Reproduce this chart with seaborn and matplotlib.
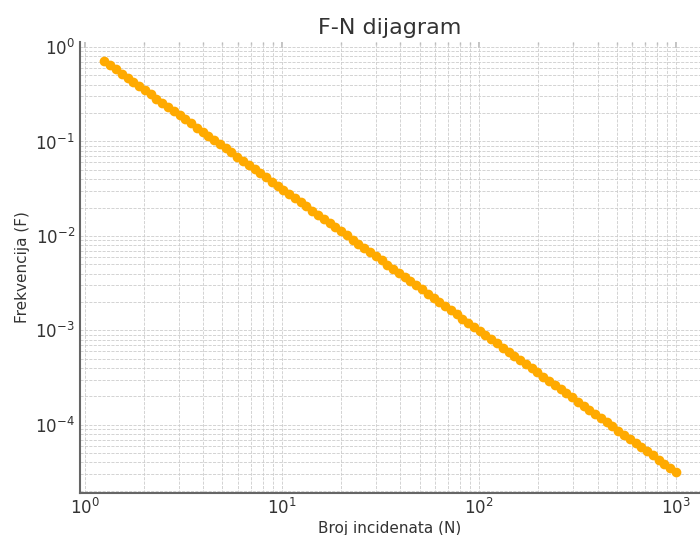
import pandas as pd
import matplotlib
matplotlib.use('Agg')
import matplotlib.pyplot as plt
import seaborn as sns

# Broj incidenata (N)
N = [1.259, 1.347, 1.441, 1.541, 1.649, 1.764, 1.887, 2.019, 2.159, 2.31,
     2.471, 2.644, 2.828, 3.026, 3.237, 3.463, 3.704, 3.963, 4.239, 4.535,
     4.851, 5.19, 5.552, 5.939, 6.354, 6.797, 7.271, 7.779, 8.322, 8.902,
     9.523, 10.19, 10.9, 11.66, 12.47, 13.34, 14.27, 15.27, 16.34, 17.48,
     18.69, 20, 21.39, 22.89, 24.48, 26.19, 28.02, 29.98, 32.07, 34.3,
     36.7, 39.26, 42, 44.93, 48.06, 51.42, 55.01, 58.84, 62.95, 67.34,
     72.04, 77.07, 82.44, 88.2, 94.35, 100.9, 108, 115.5, 123.6, 132.2,
     141.4, 151.3, 161.8, 173.1, 185.2, 198.1, 212, 226.8, 242.6, 259.5,
     277.6, 297, 317.7, 339.9, 363.6, 389, 416.1, 445.1, 476.2, 509.4,
     545, 583, 623.7, 667.2, 713.7, 763.5, 816.8, 873.8, 934.8, 1000]

# Frekvencija (F)
F = [0.7079, 0.6398, 0.5783, 0.5226, 0.4723, 0.4269, 0.3858, 0.3487, 0.3151, 0.2848,
     0.2574, 0.2326, 0.2102, 0.19, 0.1717, 0.1552, 0.1403, 0.1268, 0.1146, 0.1036,
     0.09359, 0.08458, 0.07644, 0.06909, 0.06244, 0.05643, 0.051, 0.04609, 0.04166, 0.03765,
     0.03403, 0.03075, 0.02779, 0.02512, 0.0227, 0.02052, 0.01854, 0.01676, 0.01515, 0.01369,
     0.01237, 0.01118, 0.01011, 0.009133, 0.008254, 0.00746, 0.006742, 0.006093, 0.005507, 0.004977,
     0.004498, 0.004065, 0.003674, 0.003321, 0.003001, 0.002712, 0.002451, 0.002215, 0.002002, 0.00181,
     0.001635, 0.001478, 0.001336, 0.001207, 0.001091, 0.0009861, 0.0008913, 0.0008055, 0.000728, 0.0006579,
     0.0005946, 0.0005374, 0.0004857, 0.000439, 0.0003967, 0.0003585, 0.000324, 0.0002929, 0.0002647, 0.0002392,
     0.0002162, 0.0001954, 0.0001766, 0.0001596, 0.0001442, 0.0001304, 0.0001178, 0.0001065, 9.624e-05, 8.697e-05,
     7.861e-05, 7.104e-05, 6.421e-05, 5.803e-05, 5.244e-05, 4.74e-05, 4.284e-05, 3.871e-05, 3.499e-05, 3.162e-05]

df = pd.DataFrame({'N': N, 'F': F})

sns.set_theme(style='white')
plt.rcParams['font.family'] = ['DejaVu Sans']

fig, ax = plt.subplots(figsize=(7, 5.35), dpi=100)
fig.subplots_adjust(left=0.114, right=1.0, top=0.9215, bottom=0.0785)

sns.lineplot(data=df, x='N', y='F', ax=ax, color='#FFAA00', marker='o',
             markersize=7, linewidth=4, markeredgewidth=0)

ax.set_xscale('log')
ax.set_yscale('log')
ax.set_xlim(0.944, 1324)
ax.set_ylim(1.9e-5, 1.13)

ax.grid(True, which='both', linestyle='--', linewidth=0.6, color='#cccccc')
for s in ['top', 'right']:
    ax.spines[s].set_visible(False)
for s in ['left', 'bottom']:
    ax.spines[s].set_color('#666666')
    ax.spines[s].set_linewidth(1.5)

ax.tick_params(which='both', direction='in', top=False, right=False,
               colors='#333333', labelsize=12)
ax.tick_params(which='major', length=4)
ax.tick_params(which='minor', length=2.5)

# faint ticks along the top edge
top = ax.secondary_xaxis('top')
top.spines['top'].set_visible(False)
top.tick_params(which='both', direction='in', color='#bbbbbb', labeltop=False)
top.tick_params(which='major', length=4)
top.tick_params(which='minor', length=2.5)

ax.set_title('F-N dijagram', fontsize=16, color='#333333')
ax.set_xlabel('Broj incidenata (N)', fontsize=11, color='#333333', labelpad=2)
ax.set_ylabel('Frekvencija (F)', fontsize=11, color='#333333')

fig.savefig('out.png', dpi=100)
